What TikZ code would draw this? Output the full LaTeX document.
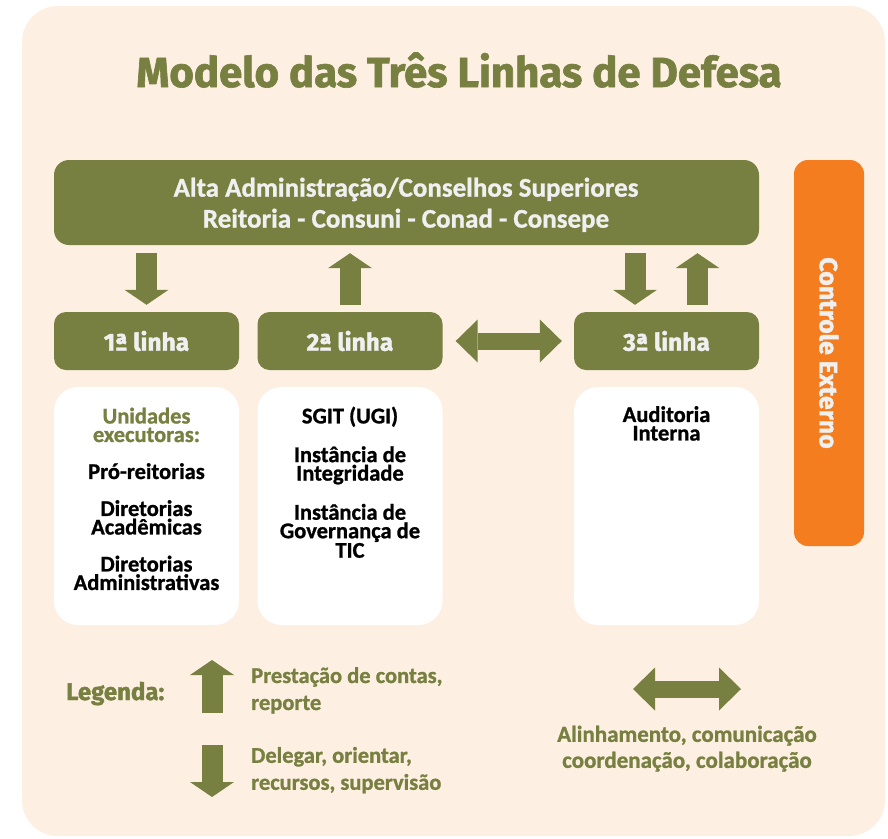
\documentclass[tikz,border=0pt]{standalone}
\usepackage{fontspec}
\setmainfont{Carlito}[BoldFeatures={FakeBold=1}]
\newfontfamily\roundfont{Fira Sans}[BoldFeatures={FakeBold=1.5}]
\usetikzlibrary{arrows.meta}

\definecolor{olive}{RGB}{119,128,64}
\definecolor{peach}{RGB}{253,239,225}
\definecolor{extorange}{RGB}{244,125,32}
\definecolor{paletext}{RGB}{240,240,240}

\tikzset{
  greenbox/.style={fill=olive, rounded corners=12pt, inner sep=0pt, text=paletext},
  linebox/.style={greenbox, minimum width=185pt, minimum height=58pt,
    font=\roundfont\bfseries\fontsize{24.5}{24.5}\selectfont},
  whitebox/.style={fill=white, rounded corners=24pt, minimum width=185pt, minimum height=238pt},
  boxtext/.style={align=center, inner sep=0pt, font=\bfseries\fontsize{22.5}{18.5}\selectfont},
  legtext/.style={align=left, inner sep=0pt, text=olive, font=\bfseries\fontsize{22.5}{27}\selectfont},
  blockarrow/.style={draw=olive, line width=21pt, -{Triangle[length=15pt,width=44pt,line width=0pt]}},
  twoway/.style={draw=olive, line width=17pt,
    {Triangle[length=22pt,width=43pt,line width=0pt]}-{Triangle[length=22pt,width=43pt,line width=0pt]}},
}

\begin{document}
\begin{tikzpicture}[x=1pt,y=-1pt]
\useasboundingbox (0,0) rectangle (888,838);

% Background
\fill[peach, rounded corners=36pt] (22,6) rectangle (885,836);

% Title
\node[anchor=base, inner sep=0pt, text=olive, font=\roundfont\bfseries\fontsize{42}{42}\selectfont] (title) at (459,87) {Modelo das Três Linhas de Defesa};

% Top box
\node[greenbox, rounded corners=15pt, minimum width=705pt, minimum height=85pt] (alta) at (406.5,202.5) {};
\node[align=center, inner sep=0pt, text=paletext, font=\bfseries\fontsize{27}{31}\selectfont, anchor=north] (altatxt) at (406,177.5)
  {Alta Administração/Conselhos Superiores\\Reitoria - Consuni - Conad - Consepe};

% Controle externo
\node[fill=extorange, rounded corners=14pt, minimum width=70pt, minimum height=386pt, inner sep=0pt] (ext) at (829,353) {};
\node[rotate=-90, inner sep=0pt, text=paletext, font=\roundfont\bfseries\fontsize{25}{25}\selectfont] (exttxt) at (ext.center) {Controle Externo};

% Lines
\node[linebox] (l1) at (146.5,341) {1ª linha};
\node[linebox] (l2) at (350,341) {2ª linha};
\node[linebox] (l3) at (666.5,341) {3ª linha};

% White boxes
\node[whitebox] (w1) at (146.5,506) {};
\node[whitebox] (w2) at (350,506) {};
\node[whitebox] (w3) at (666.5,506) {};

% Text Node
\node[boxtext, anchor=north] (w1txt) at (146.5,407.5) {\textcolor{olive}{Unidades}\\\textcolor{olive}{executoras:}\\[18.5pt]Pró-reitorias\\[18.5pt]Diretorias\\Acadêmicas\\[18.5pt]Diretorias\\Administrativas};
% Text Node
\node[boxtext, anchor=north] (w2txt) at (350,406.5) {SGIT (UGI)\\[18.5pt]Instância de\\Integridade\\[18.5pt]Instância de\\Governança de\\TIC};
% Text Node
\node[boxtext, anchor=north] (w3txt) at (666.5,406) {Auditoria\\Interna};

% Arrows between levels
\draw[blockarrow, shorten <=8pt, shorten >=7pt] (alta.south -| l1.north) -- (l1.north);
\draw[blockarrow, shorten <=7pt, shorten >=8pt] (l2.north) -- (alta.south -| l2.north);
\draw[blockarrow, shorten <=8pt, shorten >=7pt] ([xshift=-31.5pt]l3.north |- alta.south) -- ([xshift=-31.5pt]l3.north);
\draw[blockarrow, shorten <=7pt, shorten >=8pt] ([xshift=31pt]l3.north) -- ([xshift=31pt]l3.north |- alta.south);
\draw[twoway, shorten <=13pt, shorten >=12pt] (l2.east) -- (l3.west);

% Legend
\node[anchor=base west, inner sep=0pt, text=olive, font=\roundfont\bfseries\fontsize{24}{24}\selectfont] (legenda) at (66,700) {Legenda:};
\coordinate (upfoot) at (212,713);
\coordinate (uptip) at (212,660);
\coordinate (downtop) at (212,745);
\coordinate (downtip) at (212,797);
\coordinate (bothleft) at (633,689);
\coordinate (bothright) at (741,689);
\draw[blockarrow] (upfoot) -- (uptip);
\draw[blockarrow] (downtop) -- (downtip);
\draw[twoway] (bothleft) -- (bothright);

% Text Node
\node[legtext, anchor=north west] (upnote) at (251,667) {Prestação de contas,\\reporte};
% Text Node
\node[legtext, anchor=north west] (downnote) at (251,746.8) {Delegar, orientar,\\recursos, supervisão};
% Text Node
\node[legtext, align=center, anchor=north, font=\bfseries\fontsize{23}{26}\selectfont] (bothnote) at (687,725.5) {Alinhamento, comunicação\\coordenação, colaboração};

\end{tikzpicture}
\end{document}
